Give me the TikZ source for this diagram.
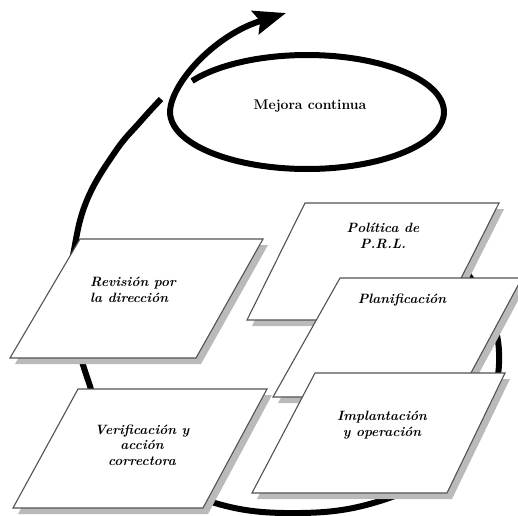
\documentclass[tikz,border=0pt]{standalone}
\usepackage{fontspec}
\usetikzlibrary{arrows.meta}

% a slanted sheet: grey drop shadow, then the white face with its outline
\newcommand\sheet[8]{%
  \fill[sheetshadow] ([shift={(5,6)}]#1,#2) -- ([shift={(5,6)}]#3,#4)
      -- ([shift={(5,6)}]#5,#6) -- ([shift={(5,6)}]#7,#8) -- cycle;
  \draw[sheetface] (#1,#2) -- (#3,#4) -- (#5,#6) -- (#7,#8) -- cycle;
}

\tikzset{
  sheetface/.style={draw=black!68, line width=1.1pt, fill=white, line join=miter},
  sheetshadow/.style={fill=black!27},
  loop/.style={line width=6pt, black, line cap=butt},
  steplabel/.style={align=center, inner sep=0pt,
    font=\fontsize{13.5}{15.5}\selectfont\bfseries\itshape\addfontfeatures{LetterSpace=6}},
  titlelabel/.style={inner sep=0pt,
    font=\fontsize{14}{16}\selectfont\bfseries\addfontfeatures{LetterSpace=5}},
}

\begin{document}
\begin{tikzpicture}[x=1pt, y=-1pt]
  \useasboundingbox (0,0) rectangle (518,515);
  \fill[white] (0,0) rectangle (518,515);

  % outer turn of the spiral, running behind the sheets
  \draw[loop] plot[smooth, tension=0.7] coordinates {
    (440,245) (470,277) (490,315) (499,352) (493,395) (472,432)
    (440,470) (380,501) (300,513) (215,503) (150,468) (105,420)
    (88,380) (74,330) (70,290) (74,250) (87,200) (115,152)
    (140,122) (161,99)};

  % inner turn: the ellipse, leaving upwards as the arrow
  \draw[loop, -{Stealth[length=32pt, width=24pt, inset=5pt]}]
    plot[smooth, domain=213:545, samples=90]
      ({307+137*cos(\x)}, {112+57*sin(\x)})
    .. controls (175,80) and (215,35) .. (286,13);
  \node[titlelabel] (mejora) at (310,106) {Mejora continua};

  % the five stages
  \sheet{80}{239}{263}{239}{196}{358}{10}{358}
  \node[steplabel, align=left] (revision) at (133,290) {Revisión por\\la dirección};

  \sheet{78}{389}{267}{389}{203}{508}{13}{508}
  \node[steplabel] (verificacion) at (142,445) {Verificación y\\acción\\correctora};

  \sheet{305}{203}{499}{203}{440}{320}{247}{320}
  \node[steplabel] (politica) at (383,236) {Política de\\P.R.L.};

  \sheet{340}{278}{522}{278}{458}{397}{273}{397}
  \node[steplabel] (planificacion) at (402,300) {Planificación};

  \sheet{315}{373}{505}{373}{447}{493}{252}{493}
  \node[steplabel] (implantacion) at (382,425) {Implantación\\y operación};
\end{tikzpicture}
\end{document}
